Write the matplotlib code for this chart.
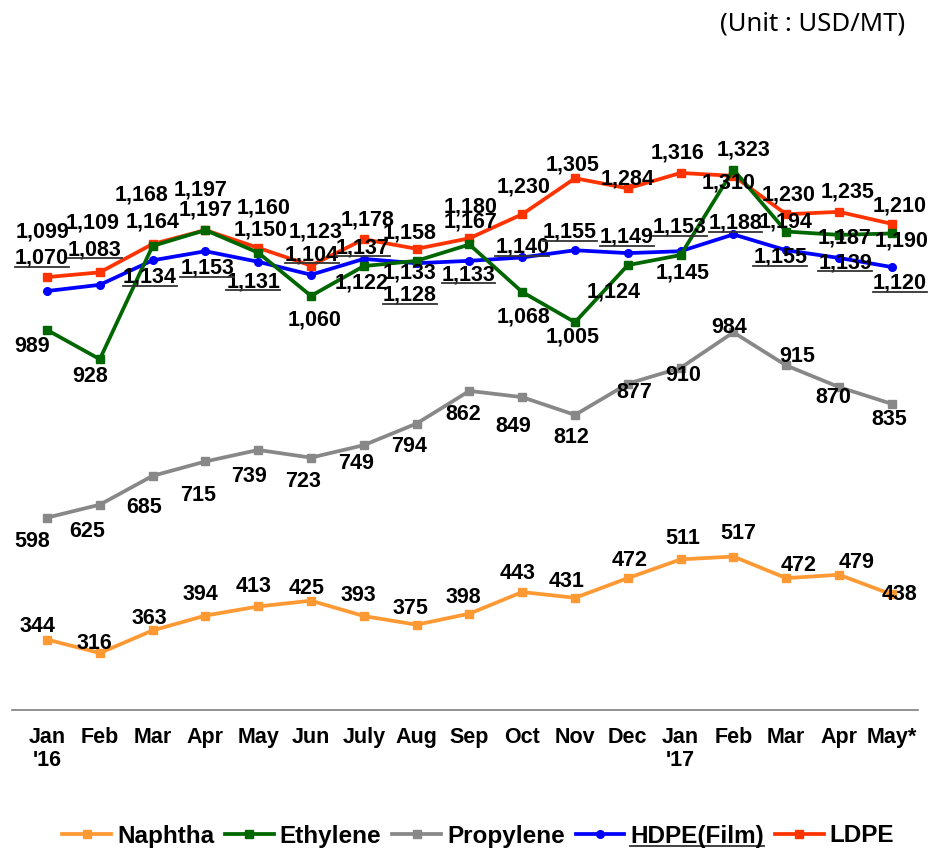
import matplotlib
matplotlib.use('Agg')
import matplotlib.pyplot as plt
from matplotlib.lines import Line2D

plt.rcParams['font.family'] = ['Liberation Sans', 'DejaVu Sans']

months = ["Jan\n'16", 'Feb', 'Mar', 'Apr', 'May', 'Jun', 'July', 'Aug', 'Sep',
          'Oct', 'Nov', 'Dec', "Jan\n'17", 'Feb', 'Mar', 'Apr', 'May*']

naphtha = [344, 316, 363, 394, 413, 425, 393, 375, 398, 443, 431, 472, 511, 517, 472, 479, 438]
ethylene = [989, 928, 1164, 1197, 1150, 1060, 1122, 1133, 1167, 1068, 1005, 1124, 1145, 1323, 1194, 1187, 1190]
propylene = [598, 625, 685, 715, 739, 723, 749, 794, 862, 849, 812, 877, 910, 984, 915, 870, 835]
hdpe = [1070, 1083, 1134, 1153, 1131, 1104, 1137, 1128, 1133, 1140, 1155, 1149, 1153, 1188, 1155, 1139, 1120]
ldpe = [1099, 1109, 1168, 1197, 1160, 1123, 1178, 1158, 1180, 1230, 1305, 1284, 1316, 1310, 1230, 1235, 1210]

# label offsets from each point, in pixels (dx, dy up)
naphtha_off = [(-10, 13), (-5, 10), (-3, 12), (-5, 21), (-5, 20), (-4, 12), (-5, 21), (-6, 16), (-6, 16),
               (-5, 19), (-8, 16), (2, 18), (2, 21), (5, 23), (12, 13), (18, 12), (8, 0)]
propylene_off = [(-15, -24), (-13, -27), (-8, -32), (-7, -34), (-9, -27), (-8, -24), (-8, -18), (-8, -23),
                 (-6, -24), (-9, -29), (-4, -23), (7, -9), (3, -8), (-4, 5), (11, 9), (-6, -10), (-3, -16)]
ethylene_off = [(-15, -17), (-10, -17), (0, 24), (0, 20), (2, 23), (4, -24), (-2, -17), (-7, -12), (1, 22),
                (1, -25), (-2, -15), (-14, -27), (2, -18), (10, 20), (-1, 10), (6, -3), (10, -8)]
ldpe_off = [(-5, 45), (-7, 49), (-11, 49), (-5, 40), (5, 40), (5, 34), (4, 19), (-7, 16), (1, 31),
            (1, 27), (-2, 13), (0, 9), (-3, 20), (-5, -7), (2, 19), (9, 20), (8, 18)]
hdpe_off = [(-5, 33), (-5, 35), (-3, -17), (2, -17), (-5, -20), (1, 20), (-1, 11), (-7, -32), (-1, -14),
            (0, 10), (-5, 18), (-1, 16), (-1, 24), (2, 11), (-6, -7), (6, -5), (8, -16)]

fig = plt.figure(figsize=(9.29, 8.5), dpi=100)
ax = fig.add_axes([12 / 929, 140 / 850, 906 / 929, 610 / 850])

x = list(range(len(months)))
series = [
    ('Naphtha', naphtha, '#FF9933', 's', naphtha_off, 3),
    ('Ethylene', ethylene, '#006600', 's', ethylene_off, 5),
    ('Propylene', propylene, '#888888', 's', propylene_off, 3),
    ('HDPE(Film)', hdpe, '#0000FF', 'o', hdpe_off, 3),
    ('LDPE', ldpe, '#FF3300', 's', ldpe_off, 4),
]

handles = []
hdpe_texts = []
for name, vals, color, mk, offs, z in series:
    line, = ax.plot(x, vals, color=color, lw=2.7, marker=mk, markersize=5.5, zorder=z, label=name)
    handles.append(line)
    for i, v in enumerate(vals):
        t = ax.annotate(f'{v:,}', (i, v), xytext=offs[i], textcoords='offset pixels',
                        ha='center', va='center', fontsize=15.5, fontweight='bold', zorder=10)
        if name == 'HDPE(Film)':
            hdpe_texts.append(t)

ax.set_xlim(-0.663, 16.496)
ax.set_ylim(197.3, 1468)
ax.set_xticks(x)
ax.set_xticklabels(months, fontsize=15.5, fontweight='bold', linespacing=1.15)
ax.tick_params(axis='x', length=0, pad=12)
ax.set_yticks([])
for s in ['left', 'right', 'top']:
    ax.spines[s].set_visible(False)
ax.spines['bottom'].set_color('#7F7F7F')
ax.spines['bottom'].set_linewidth(1.2)

fig.text(905 / 929, 1 - 24 / 850, '(Unit : USD/MT)', ha='right', va='center',
         fontsize=18.5, family=['Noto Sans', 'DejaVu Sans'])

leg = fig.legend(handles=handles, loc='center', bbox_to_anchor=(0.515, 1 - 836 / 850), ncol=5,
                 frameon=False, prop={'weight': 'bold', 'size': 17.5}, handlelength=2.0,
                 handletextpad=0.25, columnspacing=0.45, numpoints=1)

# underline the HDPE labels
fig.canvas.draw()
r = fig.canvas.get_renderer()
to_fig = fig.transFigure.inverted()
for t in hdpe_texts + [leg.get_texts()[3]]:
    bb = t.get_window_extent(r)
    (x0, y0), (x1, _) = to_fig.transform([(bb.x0, bb.y0 + 2), (bb.x1, bb.y0 + 2)])
    fig.add_artist(Line2D([x0, x1], [y0, y0], transform=fig.transFigure, color='#333333', lw=1.3))

fig.savefig('out.png', dpi=100)
